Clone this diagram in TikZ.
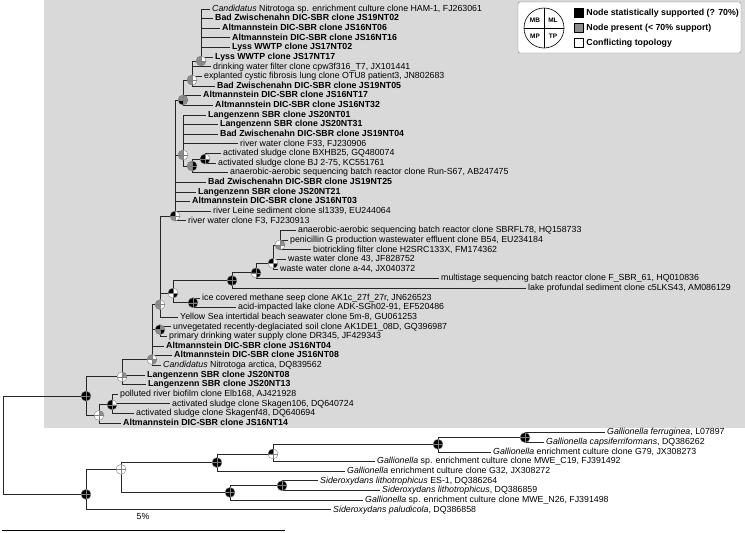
\documentclass[tikz,border=0pt]{standalone}
\usepackage{fontspec}
\setmainfont{Liberation Sans}
\usepackage{tikz}
\usetikzlibrary{positioning}

\definecolor{boxgray}{gray}{0.85}
\definecolor{piegray}{gray}{0.55}
\definecolor{treeline}{gray}{0.15}

% Knotensymbol: MB, ML, MP, TP
\newcommand{\pie}[5]{%
  \fill[#2] (#1) -- +(-5pt,0pt) arc[start angle=180,end angle=90,radius=5pt] -- cycle;
  \fill[#3] (#1) -- +(0pt,5pt) arc[start angle=90,end angle=0,radius=5pt] -- cycle;
  \fill[#4] (#1) -- +(-5pt,0pt) arc[start angle=180,end angle=270,radius=5pt] -- cycle;
  \fill[#5] (#1) -- +(5pt,0pt) arc[start angle=0,end angle=-90,radius=5pt] -- cycle;
  \draw[pieedge] (#1) circle[radius=5pt];
  \draw[pieedge] (#1) +(-5pt,0pt) -- +(5pt,0pt) (#1) +(0pt,-5pt) -- +(0pt,5pt);}

\begin{document}
\begin{tikzpicture}[x=1pt, y=-9.63pt,
    br/.style={draw=treeline, line width=0.8pt},
    pieedge/.style={draw=gray, line width=0.4pt},
    lf/.style={anchor=west, inner xsep=2pt, inner ysep=0pt, text height=6.3pt, text depth=1.8pt, font=\fontsize{8.8}{10}\selectfont},
    bl/.style={lf, font=\fontsize{8.8}{10}\selectfont\bfseries},
    sq/.style={draw=black, minimum size=9pt, inner sep=0pt},
    lgt/.style={anchor=west, inner sep=1pt, font=\fontsize{8.8}{10}\selectfont\bfseries},
    lgq/.style={inner sep=0pt, font=\fontsize{6.5}{7}\selectfont\bfseries}]
    \useasboundingbox (0,-0.9346) rectangle (745,54.31);

    % grauer Hintergrund
    \fill[boxgray] (44,-0.9346) rectangle (745,43.51);

    % Blaetter
    \node[lf] (l0) at (210,0) {\textit{Candidatus} Nitrotoga sp. enrichment culture clone HAM-1, FJ263061};
    \node[bl] (l1) at (213,1) {Bad Zwischenahn DIC-SBR clone JS19NT02};
    \node[bl] (l2) at (220,2) {Altmannstein DIC-SBR clone JS16NT06};
    \node[bl] (l3) at (230,3) {Altmannstein DIC-SBR clone JS16NT16};
    \node[bl] (l4) at (230,4) {Lyss WWTP clone JS17NT02};
    \node[bl] (l5) at (213,5) {Lyss WWTP clone JS17NT17};
    \node[lf] (l6) at (211,6) {drinking water filter clone cpw3f316\_T7, JX101441};
    \node[lf] (l7) at (202,7) {explanted cystic fibrosis lung clone OTU8 patient3, JN802683};
    \node[bl] (l8) at (215,8) {Bad Zwischenahn DIC-SBR clone JS19NT05};
    \node[bl] (l9) at (201,9) {Altmannstein DIC-SBR clone JS16NT17};
    \node[bl] (l10) at (213,10) {Altmannstein DIC-SBR clone JS16NT32};
    \node[bl] (l11) at (206,11) {Langenzenn SBR clone JS20NT01};
    \node[bl] (l12) at (218,12) {Langenzenn SBR clone JS20NT31};
    \node[bl] (l13) at (218,13) {Bad Zwischenahn DIC-SBR clone JS19NT04};
    \node[lf] (l14) at (238,14) {river water clone F33, FJ230906};
    \node[lf] (l15) at (221,15) {activated sludge clone BXHB25, GQ480074};
    \node[lf] (l16) at (216,16) {activated sludge clone BJ 2-75, KC551761};
    \node[lf] (l17) at (228,17) {anaerobic-aerobic sequencing batch reactor clone Run-S67, AB247475};
    \node[bl] (l18) at (206,18) {Bad Zwischenahn DIC-SBR clone JS19NT25};
    \node[bl] (l19) at (196,19) {Langenzenn SBR clone JS20NT21};
    \node[bl] (l20) at (190,20) {Altmannstein DIC-SBR clone JS16NT03};
    \node[lf] (l21) at (211,21) {river Leine sediment clone sl1339, EU244064};
    \node[lf] (l22) at (186,22) {river water clone F3, FJ230913};
    \node[lf] (l23) at (296,23) {anaerobic-aerobic sequencing batch reactor clone SBRFL78, HQ158733};
    \node[lf] (l24) at (288,24) {penicillin G production wastewater effluent clone B54, EU234184};
    \node[lf] (l25) at (311,25) {biotrickling filter clone H2SRC133X, FM174362};
    \node[lf] (l26) at (286,26) {waste water clone 43, JF828752};
    \node[lf] (l27) at (278,27) {waste water clone a-44, JX040372};
    \node[lf] (l28) at (439,28) {multistage sequencing batch reactor clone F\_SBR\_61, HQ010836};
    \node[lf] (l29) at (526,29) {lake profundal sediment clone c5LKS43, AM086129};
    \node[lf] (l30) at (200,30) {ice covered methane seep clone AK1c\_27f\_27r, JN626523};
    \node[lf] (l31) at (236,31) {acid-impacted lake clone ADK-SGh02-91, EF520486};
    \node[lf] (l32) at (178,32) {Yellow Sea intertidal beach seawater clone 5m-8, GU061253};
    \node[lf] (l33) at (171,33) {unvegetated recently-deglaciated soil clone AK1DE1\_08D, GQ396987};
    \node[lf] (l34) at (167,34) {primary drinking water supply clone DR345, JF429343};
    \node[bl] (l35) at (164,35) {Altmannstein DIC-SBR clone JS16NT04};
    \node[bl] (l36) at (172,36) {Altmannstein DIC-SBR clone JS16NT08};
    \node[lf] (l37) at (161,37) {\textit{Candidatus} Nitrotoga arctica, DQ839562};
    \node[bl] (l38) at (145,38) {Langenzenn SBR clone JS20NT08};
    \node[bl] (l39) at (146,39) {Langenzenn SBR clone JS20NT13};
    \node[lf] (l40) at (118,40) {polluted river biofilm clone Elb168, AJ421928};
    \node[lf] (l41) at (170,41) {activated sludge clone Skagen106, DQ640724};
    \node[lf] (l42) at (134,42) {activated sludge clone Skagenf48, DQ640694};
    \node[bl] (l43) at (121,43) {Altmannstein DIC-SBR clone JS16NT14};
    \node[lf] (l44) at (605,44) {\textit{Gallionella ferruginea}, L07897};
    \node[lf] (l45) at (544,45) {\textit{Gallionella capsiferriformans}, DQ386262};
    \node[lf] (l46) at (491,46) {\textit{Gallionella} enrichment culture clone G79, JX308273};
    \node[lf] (l47) at (375,47) {\textit{Gallionella} sp. enrichment culture clone MWE\_C19, FJ391492};
    \node[lf] (l48) at (345,48) {\textit{Gallionella} enrichment culture clone G32, JX308272};
    \node[lf] (l49) at (318,49) {\textit{Sideroxydans lithotrophicus} ES-1, DQ386264};
    \node[lf] (l50) at (380,50) {\textit{Sideroxydans lithotrophicus}, DQ386859};
    \node[lf] (l51) at (363,51) {\textit{Gallionella} sp. enrichment culture clone MWE\_N26, FJ391498};
    \node[lf] (l52) at (331,52) {\textit{Sideroxydans paludicola}, DQ386858};

    % innere Knoten
    \coordinate (n1) at (201,5.4);
    \coordinate (n2) at (192,7.37);
    \coordinate (n3) at (183,9.45);
    \coordinate (n5) at (183,15.16);
    \coordinate (n6) at (192,16.3);
    \coordinate (n7) at (205,15.58);
    \coordinate (n4) at (175,21.5);
    \coordinate (p) at (280,24.5);
    \coordinate (q) at (273,26.4);
    \coordinate (r) at (256,27.4);
    \coordinate (s) at (232,28.2);
    \coordinate (t) at (173,29.5);
    \coordinate (u) at (193,30.5);
    \coordinate (v) at (160,30.7);
    \coordinate (x) at (160,33.3);
    \coordinate (w) at (152,36.4);
    \coordinate (b) at (122,38.2);
    \coordinate (a) at (86,40.2);
    \coordinate (d) at (112,41.1);
    \coordinate (c) at (99,42.2);
    \coordinate (g6) at (525,44.5);
    \coordinate (g5) at (438,45.2);
    \coordinate (g4) at (273,46.2);
    \coordinate (g2) at (217,47.1);
    \coordinate (g7) at (282,49.5);
    \coordinate (g3) at (230,50.2);
    \coordinate (g1) at (121,47.8);
    \coordinate (g0) at (86,50.4);
    \coordinate (root) at (3,45.3);

    % Aeste
    \foreach \c in {l0,l1,l2,l3,l4,l5} \draw[br] (n1) |- (\c.west);
    \foreach \c in {l6,l7,l8} \draw[br] (n2) |- (\c.west);
    \draw[br] (n2) |- (n1);
    \foreach \c in {l9,l10} \draw[br] (n3) |- (\c.west);
    \draw[br] (n3) |- (n2);
    \foreach \c in {l15,l16} \draw[br] (n7) |- (\c.west);
    \draw[br] (n6) |- (n7);
    \draw[br] (n6) |- (l17.west);
    \foreach \c in {l11,l12,l13,l14} \draw[br] (n5) |- (\c.west);
    \draw[br] (n5) |- (n6);
    \foreach \c in {l18,l19,l20,l21,l22} \draw[br] (n4) |- (\c.west);
    \draw[br] (n4) |- (n3);
    \draw[br] (n4) |- (n5);
    \foreach \c in {l23,l24,l25} \draw[br] (p) |- (\c.west);
    \foreach \c in {l26,l27} \draw[br] (q) |- (\c.west);
    \draw[br] (q) |- (p);
    \draw[br] (r) |- (q);
    \draw[br] (r) |- (l28.west);
    \draw[br] (s) |- (r);
    \draw[br] (s) |- (l29.west);
    \foreach \c in {l30,l31} \draw[br] (u) |- (\c.west);
    \draw[br] (t) |- (s);
    \draw[br] (t) |- (u);
    \draw[br] (v) |- (n4);
    \draw[br] (v) |- (t);
    \draw[br] (v) |- (l32.west);
    \foreach \c in {l33,l34} \draw[br] (x) |- (\c.west);
    \foreach \c in {l35,l36,l37} \draw[br] (w) |- (\c.west);
    \draw[br] (w) |- (v);
    \draw[br] (w) |- (x);
    \foreach \c in {l38,l39} \draw[br] (b) |- (\c.west);
    \draw[br] (b) |- (w);
    \foreach \c in {l40,l41,l42} \draw[br] (d) |- (\c.west);
    \draw[br] (c) |- (d);
    \draw[br] (c) |- (l43.west);
    \draw[br] (a) |- (b);
    \draw[br] (a) |- (c);
    \foreach \c in {l44,l45} \draw[br] (g6) |- (\c.west);
    \draw[br] (g5) |- (g6);
    \draw[br] (g5) |- (l46.west);
    \draw[br] (g4) |- (g5);
    \draw[br] (g4) |- (l47.west);
    \draw[br] (g2) |- (g4);
    \draw[br] (g2) |- (l48.west);
    \foreach \c in {l49,l50} \draw[br] (g7) |- (\c.west);
    \draw[br] (g3) |- (g7);
    \draw[br] (g3) |- (l51.west);
    \draw[br] (g1) |- (g2);
    \draw[br] (g1) |- (g3);
    \draw[br] (g0) |- (g1);
    \draw[br] (g0) |- (l52.west);
    \draw[br] (root) |- (a);
    \draw[br] (root) |- (g0);

    % Knotensymbole
    \pie{n1}{piegray}{white}{piegray}{piegray}
    \pie{n2}{piegray}{white}{piegray}{white}
    \pie{n3}{piegray}{piegray}{black}{piegray}
    \pie{n5}{piegray}{white}{piegray}{white}
    \pie{n7}{black}{white}{black}{black}
    \pie{n6}{piegray}{black}{piegray}{black}
    \pie{n4}{black}{white}{piegray}{white}
    \pie{p}{white}{piegray}{piegray}{white}
    \pie{q}{black}{white}{white}{black}
    \pie{r}{black}{black}{white}{black}
    \pie{s}{black}{black}{black}{black}
    \pie{t}{black}{white}{white}{black}
    \pie{u}{black}{black}{black}{black}
    \pie{v}{piegray}{white}{piegray}{white}
    \pie{x}{black}{piegray}{piegray}{black}
    \pie{w}{piegray}{white}{white}{piegray}
    \pie{b}{white}{piegray}{white}{white}
    \pie{a}{black}{black}{black}{black}
    \pie{d}{black}{white}{black}{black}
    \pie{c}{white}{piegray}{white}{white}
    \pie{g6}{black}{black}{black}{black}
    \pie{g5}{black}{black}{black}{black}
    \pie{g4}{black}{white}{white}{white}
    \pie{g2}{black}{black}{black}{black}
    \pie{g7}{black}{black}{black}{black}
    \pie{g3}{black}{black}{black}{black}
    \pie{g1}{white}{white}{white}{white}
    \pie{g0}{black}{black}{black}{black}

    % Legende
    \draw[fill=white, draw=gray, rounded corners=2pt] (518,-0.727) rectangle (741,4.569);
    \coordinate (lgc) at (544,1.973);
    \draw[line width=0.6pt] (lgc) circle[radius=20pt];
    \draw[line width=0.6pt] (lgc) +(-20pt,0pt) -- +(20pt,0pt) (lgc) +(0pt,-20pt) -- +(0pt,20pt);
    \path (lgc) ++(-9pt,8pt) node[lgq] (mb) {MB};
    \path (lgc) ++(9pt,8pt) node[lgq] (ml) {ML};
    \path (lgc) ++(-9pt,-8pt) node[lgq] (mp) {MP};
    \path (lgc) ++(9pt,-8pt) node[lgq] (tp) {TP};
    \node[sq, fill=black] (s1) at (578.5,0.415) {};
    \node[sq, fill=piegray] (s2) at (578.5,1.973) {};
    \node[sq, fill=white] (s3) at (578.5,3.531) {};
    \node[lgt, right=2pt of s1] (t1) {Node statistically supported (? 70\%)};
    \node[lgt, right=2pt of s2] (t2) {Node present (< 70\% support)};
    \node[lgt, right=2pt of s3] (t3) {Conflicting topology};

    % Massstab
    \coordinate (sb0) at (2,54.1);
    \coordinate (sb1) at (285,54.1);
    \draw[line width=0.8pt] (sb0) -- (sb1);
    \node[font=\fontsize{8.8}{10}\selectfont] (pct) at (143,52.75) {5\%};
\end{tikzpicture}
\end{document}
